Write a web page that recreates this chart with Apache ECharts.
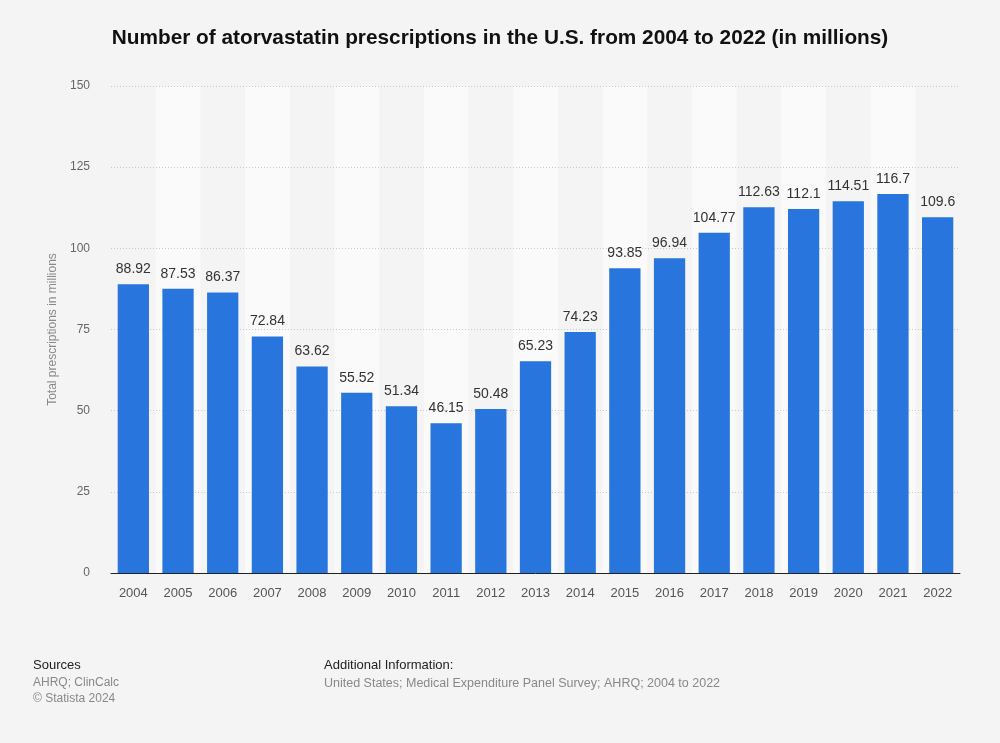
<!DOCTYPE html>
<html><head><meta charset="utf-8">
<script src="https://cdn.jsdelivr.net/npm/echarts@6/dist/echarts.min.js"></script>
<style>html,body{margin:0;padding:0;background:#f4f4f4;}#c{width:1000px;height:743px;}</style>
</head><body><div id="c"></div>
<script>
const years = ['2004','2005','2006','2007','2008','2009','2010','2011','2012','2013','2014','2015','2016','2017','2018','2019','2020','2021','2022'];
const values = [88.92,87.53,86.37,72.84,63.62,55.52,51.34,46.15,50.48,65.23,74.23,93.85,96.94,104.77,112.63,112.1,114.51,116.7,109.6];
const labels = ['88.92','87.53','86.37','72.84','63.62','55.52','51.34','46.15','50.48','65.23','74.23','93.85','96.94','104.77','112.63','112.1','114.51','116.7','109.6'];
const font = 'Liberation Sans, Arial, Helvetica, sans-serif';
const chart = echarts.init(document.getElementById('c'));
chart.setOption({
  backgroundColor: '#f4f4f4',
  animation: false,
  textStyle: {fontFamily: font},
  title: {
    text: 'Number of atorvastatin prescriptions in the U.S. from 2004 to 2022 (in millions)',
    left: 'center', top: 23,
    textStyle: {fontSize: 20.8, fontWeight: 'bold', color: '#111', fontFamily: font}
  },
  grid: {left: 111, right: 40, top: 86, bottom: 170},
  xAxis: {
    type: 'category', data: years, z: 0,
    axisLine: {lineStyle: {color: '#222', width: 1}},
    axisTick: {show: false},
    axisLabel: {color: '#555', fontSize: 13, margin: 14, fontFamily: font},
    splitArea: {show: true, areaStyle: {color: ['rgba(0,0,0,0)', '#fafafa']}}
  },
  yAxis: {
    type: 'value', min: 0, max: 150, interval: 25, z: 1,
    name: 'Total prescriptions in millions', nameLocation: 'middle', nameGap: 52,
    nameTextStyle: {color: '#888', fontSize: 12, fontFamily: font},
    axisLine: {show: false}, axisTick: {show: false},
    axisLabel: {color: '#666', fontSize: 12, margin: 21, fontFamily: font},
    splitLine: {showMinLine: false, lineStyle: {color: '#c8c8c8', type: [1, 2], width: 1}}
  },
  series: [{
    type: 'bar', data: values, barWidth: '70%', z: 2,
    itemStyle: {color: '#2876dd'},
    label: {show: true, position: 'top', distance: 8, color: '#333', fontSize: 14, fontFamily: font,
      formatter: p => labels[p.dataIndex]}
  }],
  graphic: [
    {type: 'text', left: 33, top: 659, style: {text: 'Sources', fill: '#222', font: '13px ' + font}},
    {type: 'text', left: 33, top: 677, style: {text: 'AHRQ; ClinCalc', fill: '#888', font: '12px ' + font}},
    {type: 'text', left: 33, top: 693, style: {text: '© Statista 2024', fill: '#888', font: '12px ' + font}},
    {type: 'text', left: 324, top: 659, style: {text: 'Additional Information:', fill: '#222', font: '13px ' + font}},
    {type: 'text', left: 324, top: 677, style: {text: 'United States; Medical Expenditure Panel Survey; AHRQ; 2004 to 2022', fill: '#888', font: '12.5px ' + font}}
  ]
});
</script></body></html>
